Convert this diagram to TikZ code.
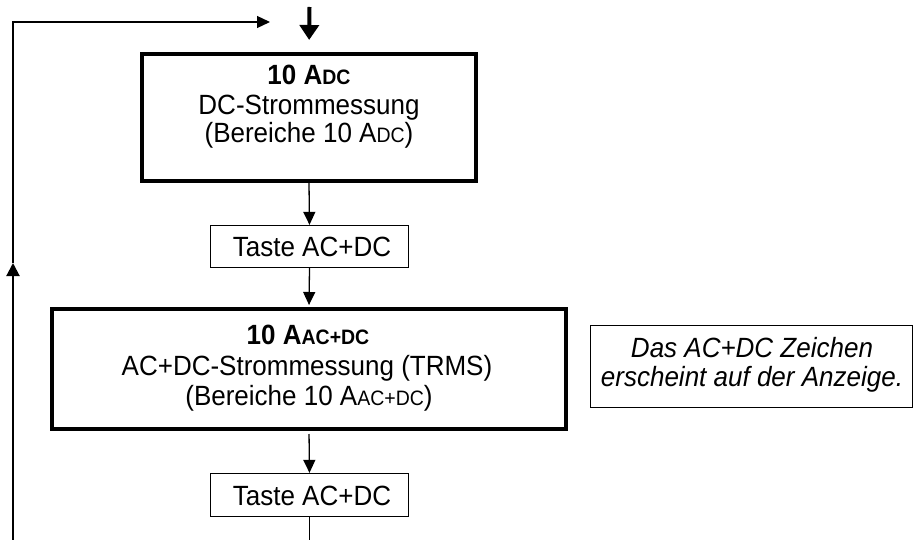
\documentclass[tikz,border=0pt]{standalone}
\usepackage{fontspec}
\setmainfont{Liberation Sans}
\usetikzlibrary{arrows.meta}
\newcommand{\sm}[1]{{\fontsize{19.5}{22}\selectfont #1}}
\newcommand{\vst}[1]{\scalebox{1}[1.07]{#1}}
\tikzset{
  txt/.style={anchor=base, inner sep=0pt, font=\fontsize{26}{30}\selectfont},
  bigbox/.style={draw, line width=4pt, rectangle, inner sep=0pt},
  smallbox/.style={draw, line width=1.3pt, rectangle, inner sep=0pt},
  thinarrow/.style={line width=1.3pt, -{Triangle[length=13pt,width=12pt]}},
  thickarrow/.style={line width=4pt, -{Triangle[length=15pt,width=19pt]}},
}
\begin{document}
\begin{tikzpicture}[x=1pt,y=-1pt]
\useasboundingbox (0,0) rectangle (915,540);
% boxes
\node[bigbox, minimum width=334pt, minimum height=127pt] (b1) at (309,117.5) {};
\node[smallbox, minimum width=198pt, minimum height=42pt] (k1) at (309.5,246.5) {};
\node[bigbox, minimum width=514pt, minimum height=120pt] (b2) at (309,369) {};
\node[smallbox, minimum width=198pt, minimum height=43pt] (k2) at (309.5,495) {};
\node[smallbox, minimum width=322pt, minimum height=82pt] (note) at (751.5,366.5) {};
% texts
\node[txt] (b1a) at (309,85) {\vst{\bfseries 10 A\sm{DC}}};
\node[txt] (b1b) at (309,114.5) {\vst{DC-Strommessung}};
\node[txt] (b1c) at (309,143) {\vst{(Bereiche 10 A\sm{DC})}};
\node[txt] (k1t) at (312,256.5) {\vst{Taste AC+DC}};
\node[txt] (b2a) at (308,344) {\vst{\bfseries 10 A\sm{AC+DC}}};
\node[txt] (b2b) at (307,375) {\vst{AC+DC-Strommessung (TRMS)}};
\node[txt] (b2c) at (309,405) {\vst{(Bereiche 10 A\sm{AC+DC})}};
\node[txt] (k2t) at (312,505.5) {\vst{Taste AC+DC}};
\node[txt] (n1) at (752,357) {\vst{\itshape Das AC+DC Zeichen}};
\node[txt] (n2) at (752,386) {\vst{\itshape erscheint auf der Anzeige.}};
% coordinates
\coordinate (topstart) at (309.5,7);
\coordinate (botend) at (309.5,541);
\coordinate (bl) at (13,541);
\coordinate (mid) at (13,263);
\coordinate (tl) at (13,22);
\coordinate (tr) at (270,22);
% connectors
\draw[thickarrow, shorten >=12pt] (topstart) -- (b1.north);
\draw[thinarrow] (b1.south) -- (k1.north);
\draw[thinarrow, shorten >=2pt] (k1.south) -- (b2.north);
\draw[thinarrow, shorten <=3pt] (b2.south) -- (k2.north);
\draw[line width=1.3pt] (k2.south) -- (botend);
\draw[line width=2pt, -{Triangle[length=13pt,width=13pt]}] (bl) -- (mid);
\draw[thinarrow] (mid) -- (tl) -- (tr);
\end{tikzpicture}
\end{document}
